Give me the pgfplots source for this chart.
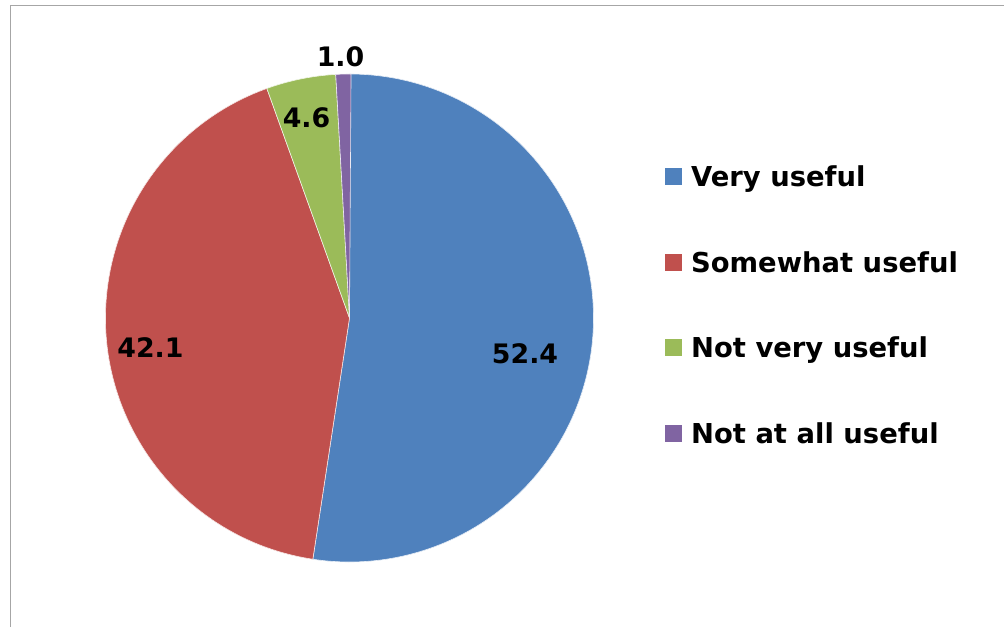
\documentclass[border=0pt]{standalone}
\usepackage{pgfplots}
\usepackage{pgfplotstable}
\pgfplotsset{compat=1.18}
\usepackage{fontspec}
\setmainfont{DejaVu Sans}
\definecolor{c0}{HTML}{4F81BD}
\definecolor{c1}{HTML}{C0504D}
\definecolor{c2}{HTML}{9BBB59}
\definecolor{c3}{HTML}{8064A2}
\definecolor{framec}{HTML}{A6A6A6}
\newcommand\lfont{\fontsize{13.7}{17}\selectfont\bfseries}
\newcommand\nfont{\fontsize{13.4}{17}\selectfont\bfseries}

\pgfplotstableread[col sep=comma]{
label,value,lx,ly,ky
Very useful,52.4,525,353.5,176.7
Somewhat useful,42.1,150.5,347.5,262.7
Not very useful,4.6,306.5,117.5,347.3
Not at all useful,1.0,340.5,56.5,433.7
}\piedata

\begin{document}
\begin{tikzpicture}
\begin{axis}[
  scale only axis, width=502pt, height=313.5pt,
  xmin=0, xmax=1004, ymin=0, ymax=627, y dir=reverse,
  hide axis, clip=false,
]
\addplot[draw=none] coordinates {(0,0) (1004,627)};
\draw[framec, line width=0.8pt] (axis cs:10.5,627) -- (axis cs:10.5,5.5) -- (axis cs:1004,5.5);
\xdef\cum{90}
\pgfplotsinvokeforeach{0,...,3}{
  \pgfplotstablegetelem{#1}{value}\of\piedata
  \edef\val{\pgfplotsretval}
  \pgfplotstablegetelem{#1}{label}\of\piedata
  \edef\lab{\pgfplotsretval}
  \pgfplotstablegetelem{#1}{ky}\of\piedata
  \edef\ky{\pgfplotsretval}
  \pgfmathsetmacro\a{\cum}
  \pgfmathsetmacro\b{\cum-3.6*\val}
  \xdef\cum{\b}
  \pgfmathsetmacro\sqtop{\ky-8.35}
  \pgfmathsetmacro\sqbot{\ky+8.35}
  \pgfmathsetmacro\base{\ky+10}
  \edef\temp{
    \noexpand\fill[c#1, draw=white!85!c#1, line width=0.3pt, line join=round] (axis cs:349.5,318) -- ++(\a:122pt) arc[start angle=\a, end angle=\b, radius=122pt] -- cycle;
    \noexpand\fill[c#1] (axis cs:665,\sqtop) rectangle (axis cs:681.7,\sqbot);
    \noexpand\node[anchor=base west, inner sep=0pt, font=\noexpand\lfont] at (axis cs:690.7,\base) {\lab};
  }
  \temp
}
\pgfplotsinvokeforeach{0,...,3}{
  \pgfplotstablegetelem{#1}{value}\of\piedata
  \edef\val{\pgfplotsretval}
  \pgfplotstablegetelem{#1}{lx}\of\piedata
  \edef\lx{\pgfplotsretval}
  \pgfplotstablegetelem{#1}{ly}\of\piedata
  \edef\ly{\pgfplotsretval}
  \edef\temp{\noexpand\node[inner sep=0pt, font=\noexpand\nfont] at (axis cs:\lx,\ly) {\val};}
  \temp
}
\end{axis}
\pgfresetboundingbox
\useasboundingbox (current axis.south west) rectangle (current axis.north east);
\end{tikzpicture}
\end{document}
